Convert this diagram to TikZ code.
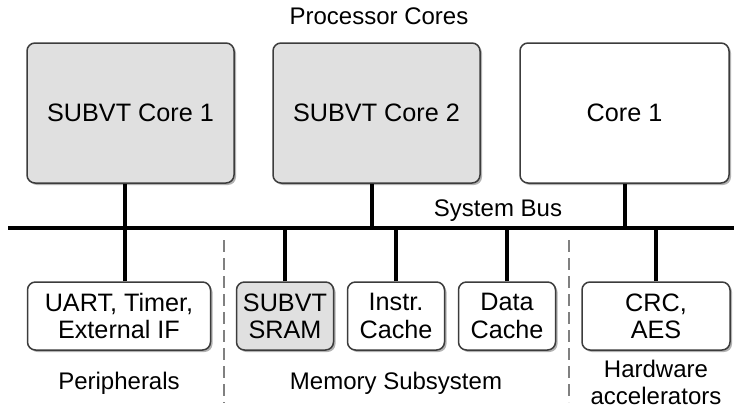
\documentclass[tikz,border=0pt]{standalone}
\usepackage{fontspec}
\setmainfont{Liberation Sans}
\usetikzlibrary{shadows}
\definecolor{coregray}{RGB}{224,224,224}
\definecolor{edgegray}{RGB}{60,60,60}

\begin{document}
\begin{tikzpicture}[x=0.5pt, y=-0.5pt,
    font=\fontsize{12}{13.5}\selectfont,
    unit/.style={draw=edgegray, line width=0.75pt, rounded corners=4pt, fill=white,
        align=center, inner sep=0pt, font=\fontsize{12.6}{13.6}\selectfont,
        drop shadow={shadow xshift=1pt, shadow yshift=-1pt, fill=black, opacity=0.3}},
    core/.style={unit, minimum height=70pt},
    block/.style={unit, minimum height=34pt},
    wire/.style={line width=2pt},
    bus/.style={line width=2.4pt},
    sep/.style={gray, line width=0.6pt, dash pattern=on 6pt off 3pt}]
                \useasboundingbox (0, 0) rectangle (734, 412);

                \node[core, fill=coregray, minimum width=103.5pt] (sub1) at (130.5, 113) {SUBVT Core 1};
                \node[core, fill=coregray, minimum width=103.5pt] (sub2) at (376.5, 113) {SUBVT Core 2};
                \node[core, minimum width=104.5pt] (core) at (624.5, 113) {Core 1};

                \node[block, minimum width=91.5pt] (uart) at (119, 316) {UART, Timer,\\External IF};
                \node[block, fill=coregray, minimum width=48.5pt] (sram) at (285, 316) {SUBVT\\SRAM};
                \node[block, minimum width=48.5pt] (icache) at (396, 316) {Instr.\\Cache};
                \node[block, minimum width=48.5pt] (dcache) at (507, 316) {Data\\Cache};
                \node[block, minimum width=74pt] (crc) at (656, 316) {CRC,\\AES};

                \coordinate (busL) at (8, 228);
                \coordinate (busR) at (734, 228);
                \draw[bus] (busL) -- (busR);

                \draw[wire] ([xshift=-2.75pt]sub1.south) -- ([xshift=-2.75pt]sub1.south |- busL);
                \draw[wire] ([xshift=-2.25pt]sub2.south) -- ([xshift=-2.25pt]sub2.south |- busL);
                \draw[wire] (core.south) -- (core.south |- busL);
                \draw[wire] ([xshift=3pt]uart.north) -- ([xshift=3pt]uart.north |- busL);
                \draw[wire] (sram.north) -- (sram.north |- busL);
                \draw[wire] (icache.north) -- (icache.north |- busL);
                \draw[wire] (dcache.north) -- (dcache.north |- busL);
                \draw[wire] (crc.north) -- (crc.north |- busL);

                \draw[sep] (224, 240) -- (224, 403);
                \draw[sep] (569, 240) -- (569, 402);

                \node (title) at (379, 16) {Processor Cores};
                \node (buslabel) at (498, 211) {System Bus};
                \node (periph) at (119, 383) {Peripherals};
                \node (memsys) at (396, 383) {Memory Subsystem};
                \node[align=center] (hwacc) at (656, 382) {Hardware\\accelerators};
\end{tikzpicture}
\end{document}
